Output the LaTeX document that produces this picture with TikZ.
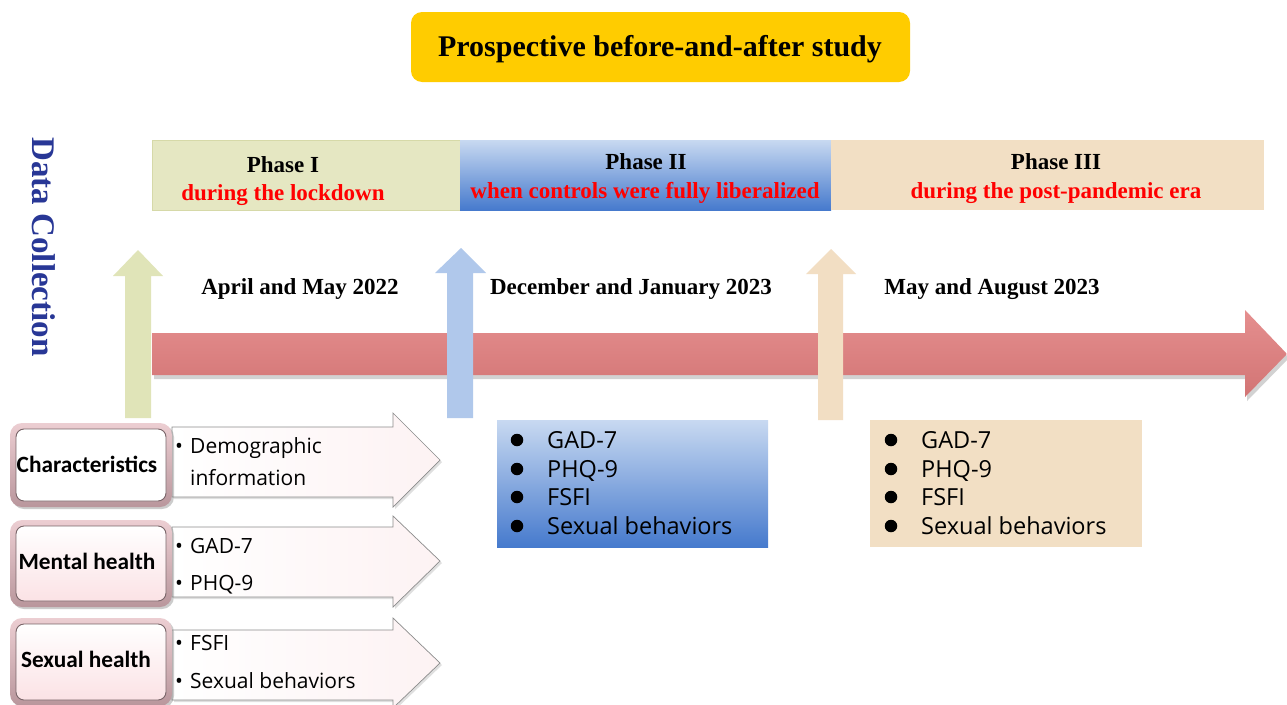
\documentclass[tikz,border=0pt]{standalone}
\usepackage{fontspec}
\setmainfont{Liberation Serif}
\newfontfamily\calfont{Carlito}
\newfontfamily\osfont{Open Sans}
\usetikzlibrary{shadows}
\definecolor{titleyellow}{RGB}{255,204,0}
\definecolor{phaseone}{RGB}{229,231,194}
\definecolor{phaseoneb}{RGB}{214,217,168}
\definecolor{phasethree}{RGB}{242,223,196}
\definecolor{bluetop}{RGB}{200,217,241}
\definecolor{bluemid}{RGB}{172,196,234}
\definecolor{bluebot}{RGB}{70,122,205}
\definecolor{redtop}{RGB}{229,143,143}
\definecolor{redbot}{RGB}{210,116,116}
\definecolor{upgreen}{RGB}{224,228,184}
\definecolor{upblue}{RGB}{176,200,235}
\definecolor{uptan}{RGB}{242,222,195}
\definecolor{dcblue}{RGB}{40,55,150}
\definecolor{pinkframe}{RGB}{236,206,210}
\definecolor{pinkframedark}{RGB}{185,150,156}
\definecolor{pinkin}{RGB}{251,226,229}
\definecolor{bevel}{RGB}{120,100,104}
\begin{document}
\begin{tikzpicture}[x=1pt,y=-1pt,
  serifbig/.style={font=\bfseries\fontsize{30}{32}\selectfont},
  phasetxt/.style={font=\bfseries\fontsize{23}{25}\selectfont, anchor=base},
  redtxt/.style={phasetxt, text=red},
  datetxt/.style={font=\bfseries\fontsize{23}{25}\selectfont, anchor=base},
  itemtxt/.style={font=\osfont\fontsize{23.5}{25}\selectfont, anchor=base west, inner sep=0pt},
  lefttxt/.style={font=\osfont\fontsize{21}{23}\selectfont, anchor=base west, inner sep=0pt},
  labeltxt/.style={font=\calfont\bfseries\fontsize{23.3}{25}\selectfont, anchor=base},
  leftarrow/.style={draw={rgb,255:red,140;green,140;blue,140}, line width=0.7pt,
     left color=white, right color={rgb,255:red,253;green,242;blue,243},
     drop shadow={opacity=0.25, shadow xshift=2pt, shadow yshift=-2pt}},
  bullet/.style={circle, fill=black, inner sep=0pt, minimum size=12.5pt}
]
\useasboundingbox[fill=white] (0,0) rectangle (1287,704);

% title
\path[fill=titleyellow, rounded corners=11pt] (411,12) rectangle (910,82);
\node[serifbig, anchor=base] (title) at (660,56) {Prospective before-and-after study};

% data collection
\node[font=\bfseries\fontsize{33}{35}\selectfont, text=dcblue, rotate=-90] (dc) at (44,247) {Data Collection};

% phase bars
\path[fill=phaseone, draw=phaseoneb, line width=0.6pt] (152,140) rectangle (460,210);
\path[top color=bluetop, middle color=bluemid, bottom color=bluebot] (460,140) rectangle (831,210);
\path[fill=phasethree] (831,140) rectangle (1264,210);

\node[phasetxt] (p1) at (283,172) {Phase I};
\node[redtxt] (p1r) at (283,200) {during the lockdown};
\node[phasetxt] (p2) at (646,169) {Phase II};
\node[redtxt] (p2r) at (645,198) {when controls were fully liberalized};
\node[phasetxt] (p3) at (1056,169) {Phase III};
\node[redtxt] (p3r) at (1056,198) {during the post-pandemic era};

% dates
\node[datetxt] (d1) at (300,294) {April and May 2022};
\node[datetxt] (d2) at (631,294) {December and January 2023};
\node[datetxt] (d3) at (992,294) {May and August 2023};

% red timeline arrow
\path[top color=redtop, bottom color=redbot,
      drop shadow={opacity=0.35, shadow xshift=2pt, shadow yshift=-4pt}]
  (152,333) -- (1245,333) -- (1245,310) -- (1287,354) -- (1245,397) -- (1245,375) -- (152,375) -- cycle;

% up arrows
\path[fill=upgreen] (125,418) -- (125,276) -- (113,276) -- (138,250) -- (163,276) -- (151,276) -- (151,418) -- cycle;
\path[fill=upblue] (447,418) -- (447,273) -- (435,273) -- (461,248) -- (486,273) -- (473,273) -- (473,418) -- cycle;
\path[fill=uptan] (818,420) -- (818,274) -- (806,274) -- (831,249) -- (856,274) -- (843,274) -- (843,420) -- cycle;

% measure boxes
\path[top color=bluetop, middle color=bluemid, bottom color=bluebot] (497,420) rectangle (768,547);
\path[fill=phasethree] (870,420) rectangle (1142,547);

\foreach \yy/\tt [count=\i] in {448/GAD-7, 477/PHQ-9, 505/FSFI, 534/Sexual behaviors}{
  \node[bullet] (bb\i) at (517,\yy-8) {};
  \node[itemtxt] (bt\i) at (547,\yy) {\tt};
  \node[bullet] (tb\i) at (891,\yy-8) {};
  \node[itemtxt] (tt\i) at (921,\yy) {\tt};
}

% left arrows
\path[leftarrow] (172,427) -- (393,427) -- (393,413) -- (440,460) -- (393,507) -- (393,497) -- (172,497) -- cycle;
\path[leftarrow] (172,527) -- (393,527) -- (393,516) -- (440,561) -- (393,607) -- (393,597) -- (172,597) -- cycle;
\path[leftarrow] (172,630) -- (393,630) -- (393,618) -- (440,663) -- (393,708) -- (393,700) -- (172,700) -- cycle;

\foreach \yy/\tt/\bl [count=\i] in {453/Demographic/1, 485/information/0, 553/GAD-7/1, 590/PHQ-9/1, 650/FSFI/1, 688/Sexual behaviors/1}{
  \node[lefttxt] (lt\i) at (190,\yy) {\tt};
  \ifnum\bl=1 \node[lefttxt] (lb\i) at (175,\yy) {•};\fi
}

% left category boxes
\foreach \ya/\yb/\inner [count=\i] in {423/507/white, 520/607/pinkin, 618/706/pinkin}{
  \path[rounded corners=12pt, top color=pinkframe, bottom color=pinkframedark,
        drop shadow={opacity=0.4, shadow xshift=2pt, shadow yshift=-2pt}]
    (10,\ya) rectangle (172,\yb);
  \path[rounded corners=8pt, top color=white, bottom color=\inner, draw=bevel, line width=0.9pt]
    (16,\ya+6) rectangle (166,\yb-6);
}
\node[labeltxt] (c1) at (87,472) {Characteristics};
\node[labeltxt] (c2) at (87,569) {Mental health};
\node[labeltxt] (c3) at (86,667) {Sexual health};
\end{tikzpicture}
\end{document}
